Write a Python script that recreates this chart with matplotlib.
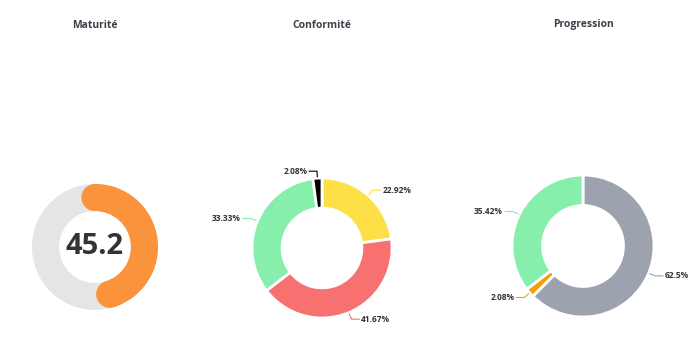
import numpy as np
import matplotlib
matplotlib.use('Agg')
import matplotlib.pyplot as plt
from matplotlib.patches import Circle

plt.rcParams['font.family'] = ['Open Sans', 'DejaVu Sans']

# data
maturite_value = 45.2
maturite_max = 100

conf_values = [22.92, 41.67, 33.33, 2.08]
conf_colors = ['#FDE047', '#F87171', '#86EFAC', '#000000']

prog_values = [62.5, 2.08, 35.42]
prog_colors = ['#9CA3AF', '#F59E0B', '#86EFAC']

titles = ['Maturité', 'Conformité', 'Progression']

W, H = 700, 356
fig = plt.figure(figsize=(W / 100, H / 100), dpi=100)

RING = 0.43
BOX = 240


def donut_axes(cx, cy):
    ax = fig.add_axes([(cx - BOX / 2) / W, (H - cy - BOX / 2) / H, BOX / W, BOX / H])
    return ax


def fix_limits(ax, r):
    # pie() resets the limits, so this goes after drawing
    lim = BOX / 2 / r
    ax.set_xlim(-lim, lim)
    ax.set_ylim(-lim, lim)
    ax.set_aspect('equal')
    ax.axis('off')


def leader_labels(ax, values, colors):
    total = sum(values)
    start = 0.0
    for v, c in zip(values, colors):
        mid = (start + v / 2) / total * 2 * np.pi
        start += v
        dx, dy = np.sin(mid), np.cos(mid)
        side = 1 if dx >= 0 else -1
        x0, y0 = 1.02 * dx, 1.02 * dy
        x1, y1 = 1.1 * dx, 1.1 * dy
        x2 = x1 + side * 0.11
        ax.plot([x0, x1, x2], [y0, y1, y1], color=c, lw=0.8, clip_on=False)
        ax.text(x2 + side * 0.03, y1, f'{v:g}%', ha='left' if side > 0 else 'right',
                va='center', fontsize=6, fontweight='bold', color='#333333')


# Maturité gauge
ax1 = donut_axes(95, 247)
ax1.pie([1], colors=['#E5E5E5'], radius=1, wedgeprops=dict(width=RING))
ax1.pie([maturite_value, maturite_max - maturite_value], colors=['#FB923C', 'none'],
        startangle=90, counterclock=False, radius=1, wedgeprops=dict(width=RING))
mid_r = 1 - RING / 2
for ang in [90, 90 - maturite_value / maturite_max * 360]:
    a = np.deg2rad(ang)
    ax1.add_patch(Circle((mid_r * np.cos(a), mid_r * np.sin(a)), RING / 2,
                         color='#FB923C', lw=0))
ax1.text(0, 0, f'{maturite_value:g}', ha='center', va='center', fontsize=21,
         fontweight='bold', color='#333333')
fix_limits(ax1, 63)

# Conformité
ax2 = donut_axes(322, 248)
ax2.pie(conf_values, colors=conf_colors, startangle=90, counterclock=False, radius=1,
        wedgeprops=dict(width=RING, edgecolor='white', linewidth=2))
leader_labels(ax2, conf_values, conf_colors)
fix_limits(ax2, 70)

# Progression
ax3 = donut_axes(583, 246)
ax3.pie(prog_values, colors=prog_colors, startangle=90, counterclock=False, radius=1,
        wedgeprops=dict(width=RING, edgecolor='white', linewidth=2))
leader_labels(ax3, prog_values, prog_colors)
fix_limits(ax3, 71)

for t, x in zip(titles, [95, 322, 583]):
    fig.text(x / W, 1 - 25 / H, t, ha='center', va='center', fontsize=7.5,
             fontweight='bold', color='#3F3F4A')

fig.savefig('out.png', dpi=100)
